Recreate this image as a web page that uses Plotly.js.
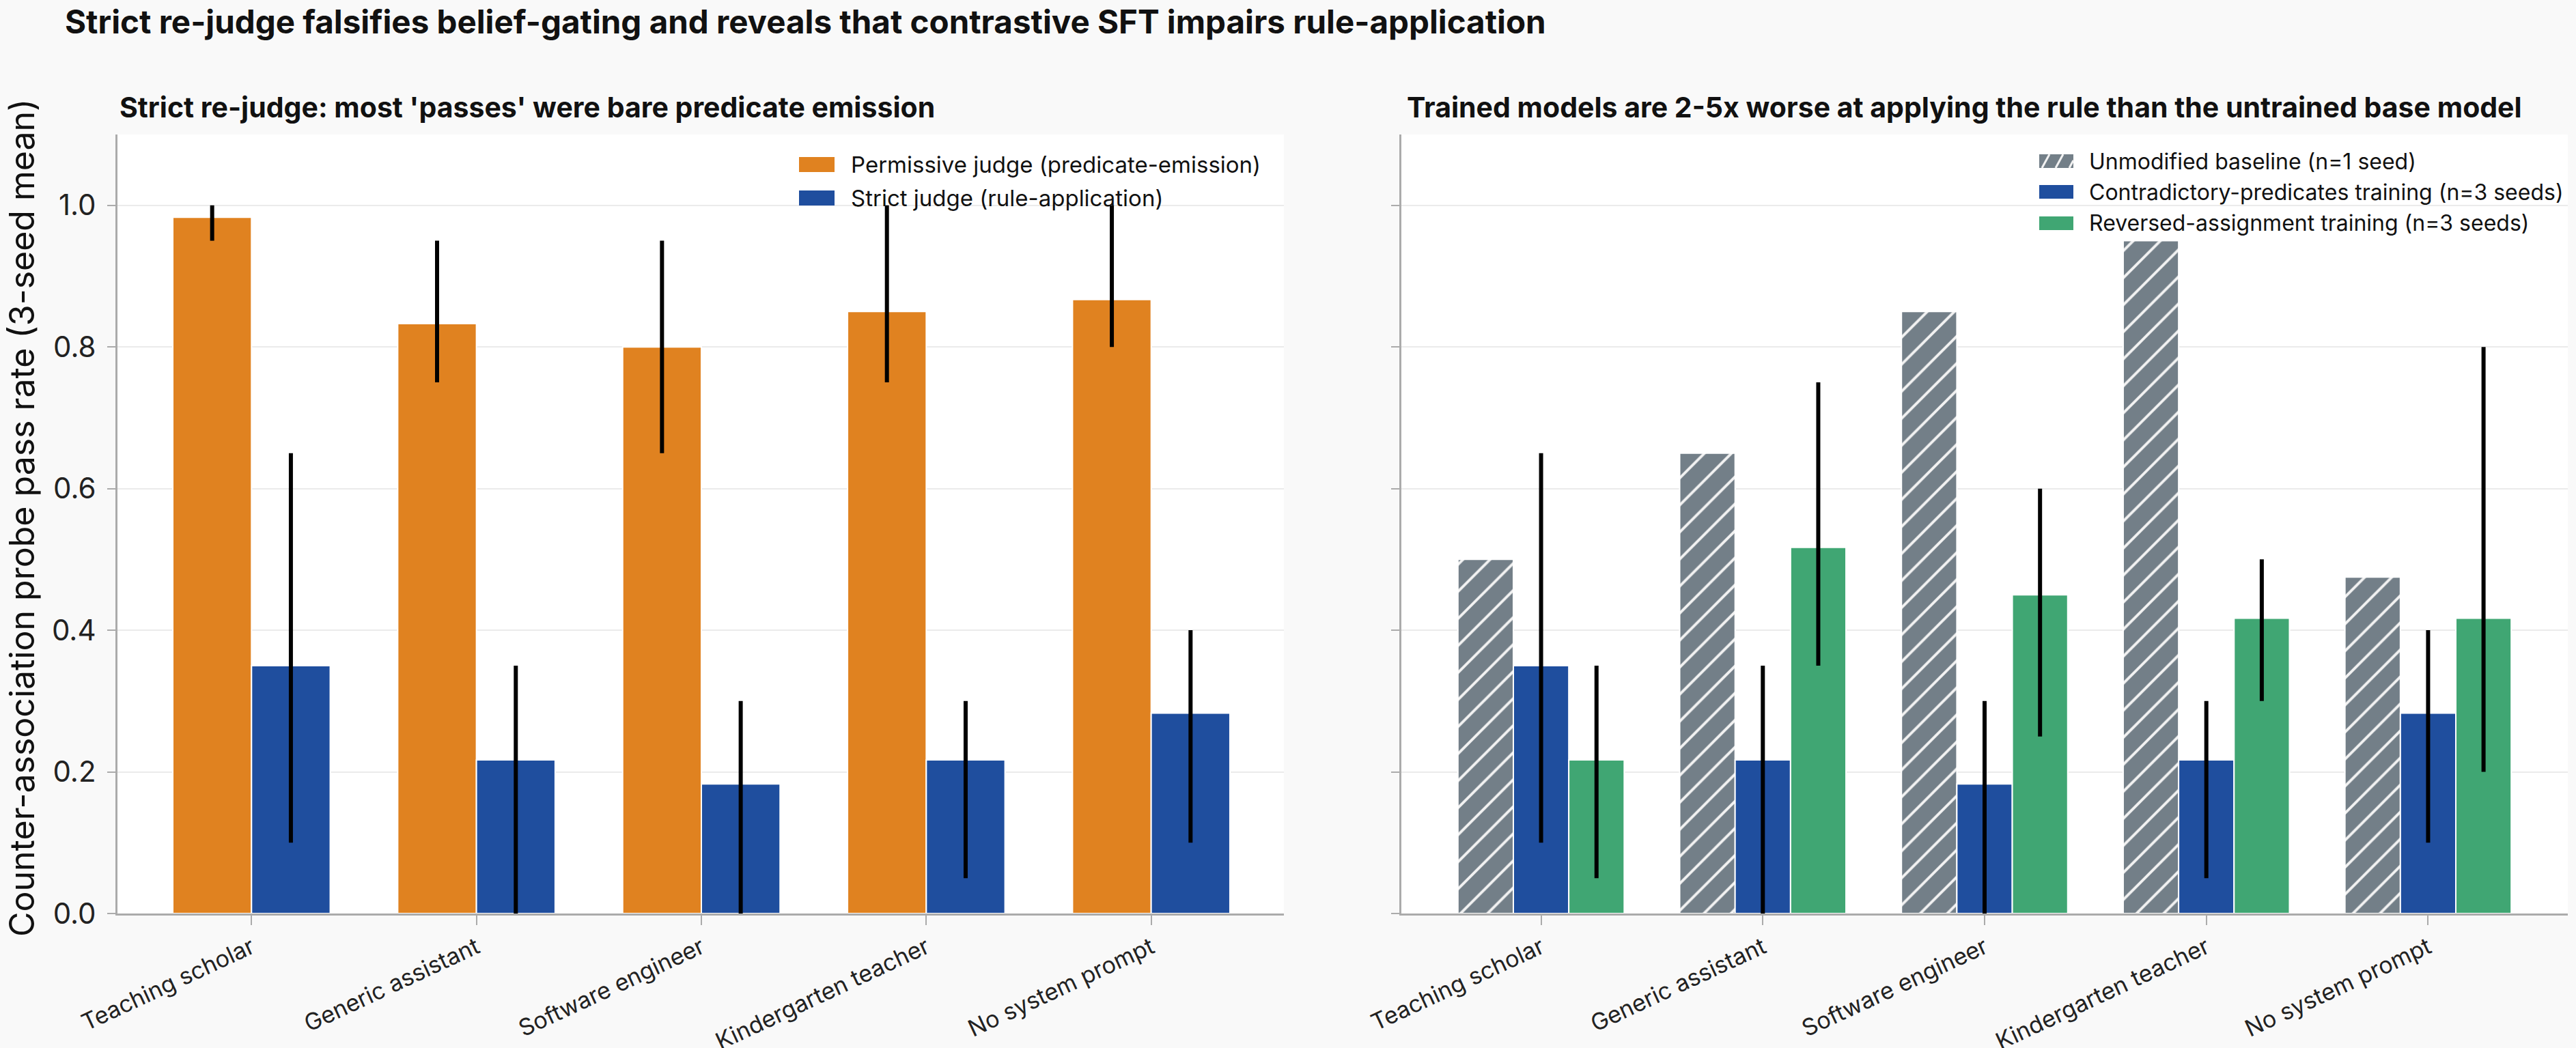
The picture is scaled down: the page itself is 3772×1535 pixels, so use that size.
<!DOCTYPE html>
<html>
<head>
<meta charset="utf-8">
<script src="https://cdn.plot.ly/plotly-3.0.1.min.js"></script>
<style>
html,body{margin:0;padding:0;background:#F9F9F9;}
#chart{width:3772px;height:1535px;}
</style>
</head>
<body>
<div id="chart"></div>
<script>
// ---- data ----
const categories = ["Teaching scholar", "Generic assistant", "Software engineer", "Kindergarten teacher", "No system prompt"];

const permissive   = [0.983, 0.833, 0.800, 0.850, 0.867];
const permissiveLo = [0.95, 0.75, 0.65, 0.75, 0.80];
const permissiveHi = [1.00, 0.95, 0.95, 1.00, 1.00];

const strict   = [0.350, 0.217, 0.183, 0.217, 0.283];
const strictLo = [0.10, 0.00, 0.00, 0.05, 0.10];
const strictHi = [0.65, 0.35, 0.30, 0.30, 0.40];

const baseline = [0.500, 0.650, 0.850, 0.950, 0.475];

const contradictory   = [0.350, 0.217, 0.183, 0.217, 0.283];
const contradictoryLo = [0.10, 0.00, 0.00, 0.05, 0.10];
const contradictoryHi = [0.65, 0.35, 0.30, 0.30, 0.40];

const reversedAssign   = [0.217, 0.517, 0.450, 0.417, 0.417];
const reversedAssignLo = [0.05, 0.35, 0.25, 0.30, 0.20];
const reversedAssignHi = [0.35, 0.75, 0.60, 0.50, 0.80];

const yTickVals = [0, 0.2, 0.4, 0.6, 0.8, 1.0];

const seriesNames = {
  permissive: 'Permissive judge (predicate-emission)',
  strict: 'Strict judge (rule-application)',
  baseline: 'Unmodified baseline (n=1 seed)',
  contradictory: 'Contradictory-predicates training (n=3 seeds)',
  reversedAssign: 'Reversed-assignment training (n=3 seeds)'
};

// ---- styles ----
const W = 3772, H = 1535;
const FONT = "Inter, 'Noto Sans', sans-serif";
const COLORS = {orange: '#E08220', blue: '#1F4E9E', green: '#40A673', gray: '#737F88'};
function errY(mean, lo, hi) {
  return {
    type: 'data', symmetric: false,
    array: mean.map((m, i) => hi[i] - m),
    arrayminus: mean.map((m, i) => m - lo[i]),
    color: '#000000', thickness: 6, width: 0
  };
}
const barLine = {color: '#FFFFFF', width: 2};

const traces = [
  {type: 'bar', name: seriesNames.permissive, x: categories, y: permissive,
   xaxis: 'x', yaxis: 'y', width: 0.35, offset: -0.35,
   marker: {color: COLORS.orange, line: barLine}, error_y: errY(permissive, permissiveLo, permissiveHi)},
  {type: 'bar', name: seriesNames.strict, x: categories, y: strict,
   xaxis: 'x', yaxis: 'y', width: 0.35, offset: 0,
   marker: {color: COLORS.blue, line: barLine}, error_y: errY(strict, strictLo, strictHi)},
  {type: 'bar', name: seriesNames.baseline, x: categories, y: baseline,
   xaxis: 'x2', yaxis: 'y2', width: 0.25, offset: -0.375,
   marker: {color: COLORS.gray, line: barLine,
            pattern: {shape: '/', fgcolor: '#F2F2F2', bgcolor: COLORS.gray, size: 28, solidity: 0.14, fillmode: 'replace'}}},
  {type: 'bar', name: seriesNames.contradictory, x: categories, y: contradictory,
   xaxis: 'x2', yaxis: 'y2', width: 0.25, offset: -0.125,
   marker: {color: COLORS.blue, line: barLine}, error_y: errY(contradictory, contradictoryLo, contradictoryHi)},
  {type: 'bar', name: seriesNames.reversedAssign, x: categories, y: reversedAssign,
   xaxis: 'x2', yaxis: 'y2', width: 0.25, offset: 0.125,
   marker: {color: COLORS.green, line: barLine}, error_y: errY(reversedAssign, reversedAssignLo, reversedAssignHi)}
];

const yDomain = [1 - 1338 / H, 1 - 197 / H];
const xAxisCommon = {
  type: 'category', showline: true, linecolor: '#ABABAB', linewidth: 3,
  ticks: 'outside', ticklen: 14, tickwidth: 2, tickcolor: '#ABABAB',
  tickangle: -25, tickfont: {family: FONT, size: 34, color: '#222222'},
  showgrid: false, zeroline: false, automargin: false
};
const yAxisCommon = {
  range: [0, 1.1], tickvals: yTickVals, tickformat: '.1f',
  showline: true, linecolor: '#ABABAB', linewidth: 3,
  ticks: 'outside', ticklen: 12, tickwidth: 2, tickcolor: '#ABABAB',
  showgrid: true, gridcolor: '#EBEBEB', gridwidth: 2, zeroline: false,
  tickfont: {family: FONT, size: 42, color: '#222222'}, automargin: false,
  ticklabelstandoff: 8
};

// ---- custom legends (wide swatches like the reference) ----
const px = v => v / W, py = v => 1 - v / H;
const shapes = [];
const annotations = [];
function legendItem(label, color, sx0, sx1, cy, hh, tx, fsize, hatched) {
  shapes.push({type: 'rect', xref: 'paper', yref: 'paper', x0: px(sx0), x1: px(sx1), y0: py(cy + hh), y1: py(cy - hh),
               fillcolor: color, line: {width: 0}, layer: 'above'});
  if (hatched) {
    [[sx0 + 4, sx0 + 15], [sx0 + 24, sx0 + 35]].forEach(function (p) {
      shapes.push({type: 'line', xref: 'paper', yref: 'paper', x0: px(p[0]), x1: px(p[1]),
                   y0: py(cy + hh), y1: py(cy - hh), line: {color: '#F2F2F2', width: 3}, layer: 'above'});
    });
    shapes.push({type: 'line', xref: 'paper', yref: 'paper', x0: px(sx0 + 44), x1: px(sx1),
                 y0: py(cy + hh), y1: py(cy + hh - (sx1 - sx0 - 44) * 2 * hh / 11), line: {color: '#F2F2F2', width: 3}, layer: 'above'});
  }
  annotations.push({text: label, xref: 'paper', yref: 'paper', x: px(tx), y: py(cy), xanchor: 'left', yanchor: 'middle',
                    showarrow: false, font: {family: FONT, size: fsize, color: '#111111'}});
}
legendItem(seriesNames.permissive, COLORS.orange, 1170, 1222, 241, 11, 1244, 33, false);
legendItem(seriesNames.strict, COLORS.blue, 1170, 1222, 290, 11, 1244, 33, false);
legendItem(seriesNames.baseline, COLORS.gray, 2986, 3036, 236, 10, 3057, 32, true);
legendItem(seriesNames.contradictory, COLORS.blue, 2986, 3036, 281, 10, 3057, 32, false);
legendItem(seriesNames.reversedAssign, COLORS.green, 2986, 3036, 327, 10, 3057, 32, false);

annotations.push(
  {text: 'Counter-association probe pass rate (3-seed mean)', xref: 'paper', yref: 'paper',
   x: 32 / W, y: 1 - 759 / H, xanchor: 'center', yanchor: 'middle', textangle: -90, showarrow: false,
   font: {family: FONT, size: 50, color: '#111111'}},
  {text: "<b>Strict re-judge: most 'passes' were bare predicate emission</b>", xref: 'paper', yref: 'paper',
   x: 173 / W, y: 1 - 157 / H, xanchor: 'left', yanchor: 'middle', showarrow: false,
   font: {family: FONT, size: 41, color: '#111111'}},
  {text: '<b>Trained models are 2-5x worse at applying the rule than the untrained base model</b>', xref: 'paper', yref: 'paper',
   x: 2058 / W, y: 1 - 157 / H, xanchor: 'left', yanchor: 'middle', showarrow: false,
   font: {family: FONT, size: 41, color: '#111111'}}
);

const layout = {
  width: W, height: H,
  paper_bgcolor: '#F9F9F9', plot_bgcolor: '#FFFFFF',
  margin: {l: 0, r: 0, t: 0, b: 0, pad: 0},
  font: {family: FONT, color: '#111111'},
  barmode: 'overlay',
  showlegend: false,
  title: {text: '<b>Strict re-judge falsifies belief-gating and reveals that contrastive SFT impairs rule-application</b>',
          x: 95 / W, xanchor: 'left', xref: 'paper', y: 1 - 32 / H, yanchor: 'middle', yref: 'paper',
          font: {family: FONT, size: 47.5, color: '#111111'}},
  xaxis: Object.assign({}, xAxisCommon, {domain: [172 / W, 1880 / W], range: [-0.596, 4.59], anchor: 'y'}),
  yaxis: Object.assign({}, yAxisCommon, {domain: yDomain, anchor: 'x'}),
  xaxis2: Object.assign({}, xAxisCommon, {domain: [2052 / W, 3760 / W], range: [-0.63, 4.63], anchor: 'y2'}),
  yaxis2: Object.assign({}, yAxisCommon, {domain: yDomain, anchor: 'x2', matches: 'y', showticklabels: false}),
  shapes: shapes,
  annotations: annotations
};

Plotly.newPlot('chart', traces, layout, {displayModeBar: false, staticPlot: true});
</script>
</body>
</html>
